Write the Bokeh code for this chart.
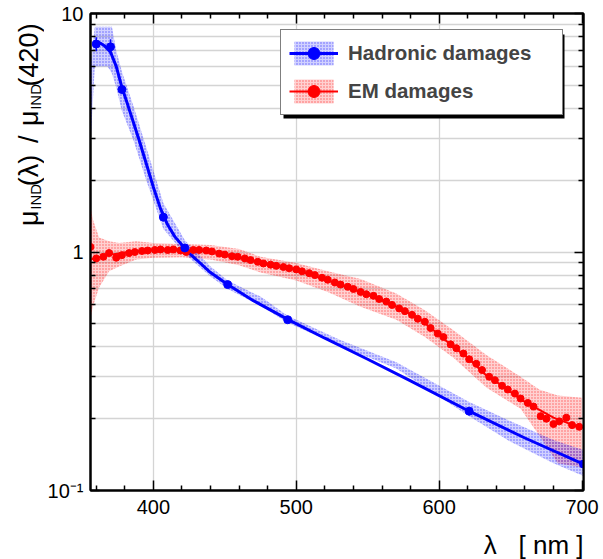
from bokeh.plotting import figure
from bokeh.layouts import row, column
from bokeh.models import (Range1d, FixedTicker, LinearAxis, LogAxis,
                          Legend, LegendItem, BoxAnnotation, CustomJSTickFormatter)
from bokeh.core.properties import value
from bokeh.embed import file_html
from bokeh.resources import INLINE

# ---------------- hadronic damages ----------------
had_lam = [360, 370, 378, 407, 422, 452, 494, 621, 701]
had_ratio = [7.45, 7.25, 4.8, 1.40, 1.04, 0.73, 0.52, 0.215, 0.129]
had_err = [0.5, 0.55, 0, 0, 0, 0, 0, 0, 0]

had_fit_lam = [358, 360, 363, 366, 370, 374, 378, 382, 386, 390, 395, 400, 405,
               410, 415, 420, 425, 430, 440, 452, 470, 494, 520, 550, 580, 621,
               660, 701]
had_fit = [7.45, 7.55, 7.5, 7.3, 6.9, 6.0, 4.9, 4.15, 3.5, 2.95, 2.35, 1.87, 1.52,
           1.30, 1.16, 1.07, 0.99, 0.93, 0.82, 0.73, 0.625, 0.522, 0.435, 0.355,
           0.288, 0.215, 0.166, 0.129]

had_band_lam = [356, 359, 368, 371, 374, 378, 386, 395, 407, 422, 440, 452, 475,
                494, 530, 570, 621, 650, 680, 701]
had_band_hi = [6.0, 8.8, 8.8, 8.8, 7.0, 5.7, 4.1, 2.75, 1.6, 1.12, 0.87, 0.76, 0.65,
               0.54, 0.43, 0.345, 0.235, 0.195, 0.163, 0.148]
had_band_lo = [2.84, 6.0, 6.0, 5.6, 4.9, 3.9, 2.95, 2.0, 1.25, 0.98, 0.79, 0.70, 0.595,
               0.505, 0.405, 0.325, 0.205, 0.16, 0.13, 0.115]

# ---------------- EM damages ----------------
em_lam = [356, 360, 365, 369, 374, 378, 383, 387, 392, 396,
          401, 405, 410, 414, 419, 423, 428, 432, 437, 441,
          446, 450, 455, 459, 464, 468, 473, 477, 482, 486,
          491, 495, 500, 504, 509, 513, 518, 522, 527, 531,
          536, 540, 545, 549, 554, 558, 563, 567, 572, 576,
          581, 585, 590, 594, 599, 603, 608, 612, 617, 621,
          626, 630, 635, 639, 644, 648, 653, 657, 662, 666,
          671, 675, 680, 684, 689, 693, 698]
em_ratio = [1.05, 0.94, 0.955, 0.99, 0.946, 0.97, 0.99, 1.0, 1.01, 1.015,
            1.02, 1.025, 1.02, 1.025, 1.015, 1.0, 1.02, 1.02, 1.015, 1.005,
            0.985, 0.975, 0.96, 0.955, 0.94, 0.925, 0.91, 0.895, 0.885, 0.875,
            0.865, 0.855, 0.845, 0.83, 0.815, 0.80, 0.78, 0.765, 0.745, 0.73,
            0.715, 0.70, 0.68, 0.665, 0.655, 0.635, 0.62, 0.60, 0.58, 0.565,
            0.545, 0.525, 0.51, 0.48, 0.455, 0.44, 0.41, 0.395, 0.375, 0.355,
            0.34, 0.32, 0.30, 0.29, 0.275, 0.265, 0.255, 0.243, 0.233, 0.225,
            0.205, 0.20, 0.19, 0.195, 0.202, 0.188, 0.185]

em_fit_lam = [356, 360, 370, 380, 390, 400, 410, 423, 442, 458, 477, 500, 522,
              545, 569, 587, 597, 610, 620, 634, 643, 657, 667, 680, 699]
em_fit = [0.93, 0.945, 0.975, 0.995, 1.01, 1.02, 1.025, 1.02, 1.0, 0.956, 0.895,
          0.84, 0.76, 0.68, 0.595, 0.52, 0.465, 0.40, 0.36, 0.30, 0.278, 0.241,
          0.223, 0.202, 0.183]

em_band_lam = [356, 358, 362, 369, 376, 388, 400, 420, 440, 460, 475, 500, 522,
               545, 570, 590, 610, 633, 657, 670, 683, 700]
em_band_hi = [1.53, 1.35, 1.15, 1.11, 1.09, 1.11, 1.09, 1.08, 1.07, 1.03, 0.955,
              0.9, 0.83, 0.77, 0.67, 0.57, 0.47, 0.37, 0.30, 0.265, 0.25, 0.245]
em_band_lo = [0.53, 0.6, 0.71, 0.83, 0.87, 0.93, 0.946, 0.95, 0.93, 0.88, 0.82,
              0.76, 0.68, 0.59, 0.52, 0.44, 0.36, 0.27, 0.22, 0.17, 0.13, 0.125]

# ---------------- axes ----------------
x_major = [400, 500, 600, 700]
x_minor = [360, 380, 420, 440, 460, 480, 520, 540, 560, 580, 620, 640, 660, 680]
y_major = [0.1, 1, 10]
y_minor = [0.2, 0.3, 0.4, 0.5, 0.6, 0.7, 0.8, 0.9, 2, 3, 4, 5, 6, 7, 8, 9]

FONT = "Liberation Sans"
BLUE = "#0000ff"
RED = "#ff0000"

STRIP_W = 44        # left strip holding the vertical axis title
MAIN_W = 603 - STRIP_W
MAIN_H = 530
BOTTOM_H = 559 - MAIN_H
BASELINE_SHIFT = 9  # text glyphs sit this far below their anchor

p = figure(width=MAIN_W, height=MAIN_H, y_axis_type="log",
           x_range=Range1d(356, 701), y_range=Range1d(0.1, 10),
           output_backend="svg", toolbar_location=None,
           min_border_left=89 - STRIP_W, min_border_right=20,
           min_border_top=13, min_border_bottom=MAIN_H - 490,
           background_fill_color="white", border_fill_color="white")
p.outline_line_color = "black"
p.outline_line_width = 2

xticker = FixedTicker(ticks=x_major, minor_ticks=x_minor)
yticker = FixedTicker(ticks=y_major, minor_ticks=y_minor)

xa = p.xaxis[0]
ya = p.yaxis[0]
xa.ticker = xticker
ya.ticker = yticker
ya.formatter = CustomJSTickFormatter(
    code="if (tick > 5) { return '10'; } if (tick > 0.5) { return '1'; } return '10⁻¹';")

for ax in (xa, ya):
    ax.axis_line_color = "black"
    ax.axis_line_width = 2
    ax.major_tick_line_width = 1.5
    ax.minor_tick_line_width = 1.5
    ax.major_tick_out = 0
    ax.minor_tick_out = 0
    ax.major_label_text_font = FONT
    ax.major_label_text_font_size = "20px"
    ax.major_label_text_color = "black"
xa.major_tick_in = 10
xa.minor_tick_in = 5
ya.major_tick_in = 9
ya.minor_tick_in = 5
xa.major_label_standoff = 9
ya.major_label_standoff = 7

# tick-only mirror axes on the top and right edges
blank = CustomJSTickFormatter(code="return '';")
top_ax = LinearAxis(ticker=xticker, formatter=blank,
                    major_label_standoff=0, major_tick_out=0, minor_tick_out=0,
                    major_tick_in=10, minor_tick_in=5, axis_line_width=2,
                    major_tick_line_width=1.5, minor_tick_line_width=1.5)
right_ax = LogAxis(ticker=yticker, formatter=blank,
                   major_label_standoff=0, major_tick_out=0, minor_tick_out=0,
                   major_tick_in=9, minor_tick_in=5, axis_line_width=2,
                   major_tick_line_width=1.5, minor_tick_line_width=1.5)
p.add_layout(top_ax, "above")
p.add_layout(right_ax, "right")

p.xgrid.grid_line_color = "#d4d4d4"
p.xgrid.grid_line_width = 1.3
p.ygrid.grid_line_color = "#d4d4d4"
p.ygrid.grid_line_width = 1.3
p.ygrid.minor_grid_line_color = "#d4d4d4"
p.ygrid.minor_grid_line_width = 1.3

# ---------------- bands ----------------
em_band = p.varea(x=em_band_lam, y1=em_band_lo, y2=em_band_hi,
                  fill_color=RED, fill_alpha=0.18,
                  hatch_pattern="dot", hatch_color=RED, hatch_alpha=0.55,
                  hatch_scale=3, hatch_weight=1)
had_band = p.varea(x=had_band_lam, y1=had_band_lo, y2=had_band_hi,
                   fill_color=BLUE, fill_alpha=0.18,
                   hatch_pattern="dot", hatch_color=BLUE, hatch_alpha=0.55,
                   hatch_scale=3, hatch_weight=1)

# ---------------- fits and points ----------------
em_line = p.line(em_fit_lam, em_fit, line_color=RED, line_width=2)
had_line = p.line(had_fit_lam, had_fit, line_color=BLUE, line_width=3)

had_lo = [v - e for v, e in zip(had_ratio, had_err)]
had_hi = [v + e for v, e in zip(had_ratio, had_err)]
p.segment(x0=had_lam, y0=had_lo, x1=had_lam, y1=had_hi, line_color=BLUE, line_width=1.5)

em_pts = p.scatter(em_lam, em_ratio, marker="circle", size=7,
                   fill_color=RED, line_color=RED)
had_pts = p.scatter(had_lam, had_ratio, marker="circle", size=8,
                    fill_color=BLUE, line_color=BLUE)

# ---------------- legend with drop shadow ----------------
shadow = BoxAnnotation(left=193, right=474, top=456, bottom=372,
                       left_units="screen", right_units="screen",
                       top_units="screen", bottom_units="screen",
                       fill_color="black", fill_alpha=1, line_color=None)
p.add_layout(shadow)

legend = Legend(items=[
    LegendItem(label="Hadronic damages", renderers=[had_band, had_line, had_pts]),
    LegendItem(label="EM damages", renderers=[em_band, em_line, em_pts]),
], location=(190, 375))
legend.margin = 0
legend.padding = 8
legend.spacing = 8
legend.glyph_width = 49
legend.glyph_height = 30
legend.label_standoff = 10
legend.label_width = 206
legend.label_text_font = FONT
legend.label_text_font_style = "bold"
legend.label_text_font_size = "20.5px"
legend.border_line_color = "black"
legend.border_line_width = 1.5
legend.background_fill_color = "white"
legend.background_fill_alpha = 1
p.add_layout(legend, "center")


def text_strip(w, h):
    """A bare figure whose data units are pixels, used to hold free text."""
    f = figure(width=w, height=h, x_range=Range1d(0, w), y_range=Range1d(0, h),
               output_backend="svg", toolbar_location=None,
               x_axis_location=None, y_axis_location=None,
               min_border=0, background_fill_color="white",
               border_fill_color="white")
    f.outline_line_color = None
    f.grid.visible = False
    return f


# ---------------- vertical title: mu_IND(lambda) / mu_IND(420) ----------------
left = text_strip(STRIP_W, MAIN_H)
ANG = 1.5707963
main_parts = ["μ", "(λ)", "/", "μ", "(420)"]
main_start = [236, 192, 144, 125, 81]      # px from top where each piece begins
sub_parts = ["IND", "IND"]
sub_start = [218, 107]
left.text(x=[37 - BASELINE_SHIFT] * len(main_parts),
          y=[MAIN_H - s for s in main_start],
          text=main_parts, angle=ANG, text_font=value(FONT),
          text_font_size=value("27px"), text_color="black",
          text_align="left", text_baseline="alphabetic")
left.text(x=[44 - BASELINE_SHIFT] * len(sub_parts),
          y=[MAIN_H - s for s in sub_start],
          text=sub_parts, angle=ANG, text_font=value(FONT),
          text_font_size=value("15px"), text_color="black",
          text_align="left", text_baseline="alphabetic")

# ---------------- horizontal title: lambda [ nm ] ----------------
bottom = text_strip(603, BOTTOM_H)
bottom.text(x=[583], y=[BOTTOM_H - 23 + BASELINE_SHIFT],
            text=["λ\u00a0\u00a0\u00a0[ nm ]"],
            text_font=value(FONT), text_font_size=value("26px"),
            text_color="black", text_align="right", text_baseline="alphabetic")

layout = column(row(left, p, spacing=0), bottom, spacing=0)
open("out.html", "w").write(file_html(layout, INLINE))
